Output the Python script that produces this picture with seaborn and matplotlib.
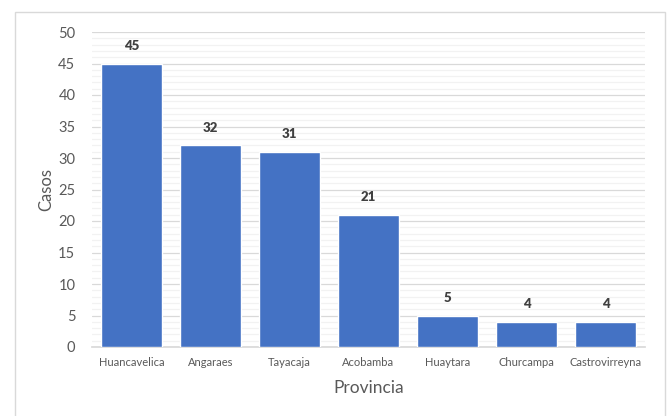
import matplotlib
matplotlib.use("Agg")
import matplotlib.pyplot as plt
import seaborn as sns
import pandas as pd
from matplotlib.patches import Rectangle
from matplotlib.ticker import MultipleLocator

provincias = ["Huancavelica", "Angaraes", "Tayacaja", "Acobamba", "Huaytara", "Churcampa", "Castrovirreyna"]
casos = [45, 32, 31, 21, 5, 4, 4]

sns.set_theme(style="white")
plt.rcParams['font.family'] = ['Lato', 'DejaVu Sans']

df = pd.DataFrame({"Provincia": provincias, "Casos": casos})

fig = plt.figure(figsize=(6.68, 4.16), dpi=100)
ax = fig.add_axes([92/668, 1-347/416, (645-92)/668, (347-32)/416])

fig.patches.append(Rectangle((15/668, -0.1), (665-15)/668, 1.1 - 12/416,
                             transform=fig.transFigure, fill=False,
                             edgecolor="#D9D9D9", linewidth=1.0))

sns.barplot(data=df, x="Provincia", y="Casos", color="#4472C4", width=0.76,
            saturation=1, ax=ax, zorder=3)

ax.set_ylim(0, 50)
ax.yaxis.set_major_locator(MultipleLocator(5))
ax.yaxis.set_minor_locator(MultipleLocator(1))
ax.grid(which="major", axis="y", color="#D9D9D9", linewidth=0.9, zorder=0)
ax.grid(which="minor", axis="y", color="#F2F2F2", linewidth=0.9, zorder=0)
ax.set_axisbelow(True)
for s in ["top", "right", "left"]:
    ax.spines[s].set_visible(False)
ax.spines["bottom"].set_color("#D9D9D9")
ax.tick_params(axis="y", which="both", length=0, labelsize=10.5, labelcolor="#595959", pad=12)
ax.tick_params(axis="x", length=0, labelsize=8, labelcolor="#595959", pad=7)

for i, v in enumerate(casos):
    ax.annotate(str(v), (i, v), xytext=(0, 12.5), textcoords="offset points",
                ha="center", va="center", fontsize=9.5, fontweight="heavy", color="#404040")

ax.set_ylabel("Casos", fontsize=12, color="#595959", labelpad=3)
ax.set_xlabel("Provincia", fontsize=12.5, color="#595959", labelpad=9)

fig.savefig("out.png", dpi=100)
